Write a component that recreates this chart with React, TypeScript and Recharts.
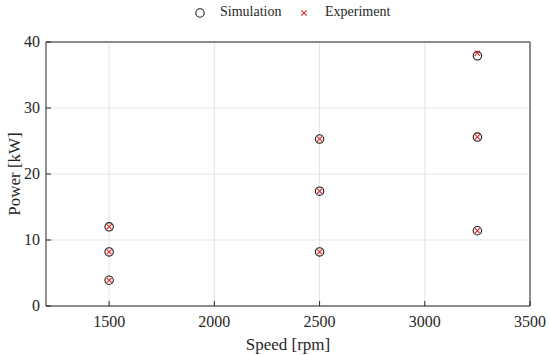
import React from 'react';
import {
  ScatterChart,
  Scatter,
  XAxis,
  YAxis,
  CartesianGrid,
} from 'recharts';

const speeds = [1500, 1500, 1500, 2500, 2500, 2500, 3250, 3250, 3250];
const simulationPower = [12.0, 8.2, 3.9, 25.3, 17.4, 8.2, 37.9, 25.6, 11.4];
const experimentPower = [12.0, 8.2, 3.9, 25.3, 17.4, 8.2, 38.3, 25.6, 11.4];
const xTicks = [1500, 2000, 2500, 3000, 3500];
const yTicks = [0, 10, 20, 30, 40];

const simulation = speeds.map((speed, i) => ({ speed, power: simulationPower[i] }));
const experiment = speeds.map((speed, i) => ({ speed, power: experimentPower[i] }));

const TEXT = '#262626';
const RED = '#e4262b';
const FONT = '"Liberation Serif", "DejaVu Serif", serif';

const SimShape = (p: any) => (
  <circle cx={p.cx} cy={p.cy} r={4.2} fill="none" stroke="#1a1a1a" strokeWidth={1.1} />
);

const ExpShape = (p: any) => {
  const s = 2.6;
  return (
    <g stroke={RED} strokeWidth={1.1}>
      <line x1={p.cx - s} y1={p.cy - s} x2={p.cx + s} y2={p.cy + s} />
      <line x1={p.cx - s} y1={p.cy + s} x2={p.cx + s} y2={p.cy - s} />
    </g>
  );
};

const XTick = ({ x, y, payload }: any) => (
  <text x={x} y={y} dy={11} textAnchor="middle" fill={TEXT} fontSize={16} fontFamily={FONT}>
    {payload.value}
  </text>
);

const YTick = ({ x, y, payload }: any) => (
  <text x={x} y={y} dy={5} textAnchor="end" fill={TEXT} fontSize={16} fontFamily={FONT}>
    {payload.value}
  </text>
);

const labelStyle = { fontSize: 17, fill: TEXT, fontFamily: FONT };

const App = () => {
  return (
    <div
      style={{
        position: 'absolute',
        left: 0,
        top: 0,
        width: 550,
        height: 355,
        background: '#fff',
        fontFamily: FONT,
        color: TEXT,
      }}
    >
      <div
        style={{
          position: 'absolute',
          top: 4,
          left: 0,
          width: 550,
          height: 20,
          fontSize: 14,
        }}
      >
        <svg width={12} height={12} style={{ position: 'absolute', left: 194, top: 3 }}>
          <circle cx={6} cy={6} r={4.2} fill="none" stroke="#1a1a1a" strokeWidth={1.1} />
        </svg>
        <span style={{ position: 'absolute', left: 220, top: 0 }}>Simulation</span>
        <svg width={12} height={12} style={{ position: 'absolute', left: 298, top: 3 }}>
          <g stroke={RED} strokeWidth={1.1}>
            <line x1={3.4} y1={3.4} x2={8.6} y2={8.6} />
            <line x1={3.4} y1={8.6} x2={8.6} y2={3.4} />
          </g>
        </svg>
        <span style={{ position: 'absolute', left: 325, top: 0 }}>Experiment</span>
      </div>
      <ScatterChart
        width={550}
        height={355}
        margin={{ top: 41, right: 19, bottom: 0, left: 0 }}
        style={{ position: 'absolute', left: 0, top: 0, fontFamily: FONT }}
      >
        <CartesianGrid
          xAxisId="b"
          yAxisId="l"
          stroke="#e3e3e3"
          horizontalValues={yTicks}
          verticalValues={xTicks}
        />
        <XAxis
          xAxisId="b"
          type="number"
          dataKey="speed"
          domain={[1200, 3500]}
          ticks={xTicks}
          height={49}
          tickSize={-5}
          tickMargin={15}
          tick={<XTick />}
          stroke={TEXT}
          allowDataOverflow
          label={{ value: 'Speed [rpm]', position: 'insideBottom', offset: 5, style: labelStyle }}
        />
        <XAxis
          xAxisId="t"
          orientation="top"
          type="number"
          domain={[1200, 3500]}
          ticks={xTicks}
          height={1}
          tickSize={-5}
          tick={false}
          stroke={TEXT}
          allowDataOverflow
        />
        <YAxis
          yAxisId="l"
          type="number"
          dataKey="power"
          domain={[0, 40]}
          ticks={yTicks}
          width={46}
          tickSize={-5}
          tickMargin={11}
          tick={<YTick />}
          stroke={TEXT}
          allowDataOverflow
          label={{
            value: 'Power [kW]',
            angle: -90,
            position: 'insideLeft',
            offset: 14,
            style: { ...labelStyle, textAnchor: 'middle' },
          }}
        />
        <YAxis
          yAxisId="r"
          orientation="right"
          type="number"
          domain={[0, 40]}
          ticks={yTicks}
          width={1}
          tickSize={-5}
          tick={false}
          stroke={TEXT}
          allowDataOverflow
        />
        <Scatter
          name="Simulation"
          data={simulation}
          xAxisId="b"
          yAxisId="l"
          shape={SimShape}
          isAnimationActive={false}
        />
        <Scatter
          name="Experiment"
          data={experiment}
          xAxisId="b"
          yAxisId="l"
          shape={ExpShape}
          isAnimationActive={false}
        />
      </ScatterChart>
    </div>
  );
};

export default App;
